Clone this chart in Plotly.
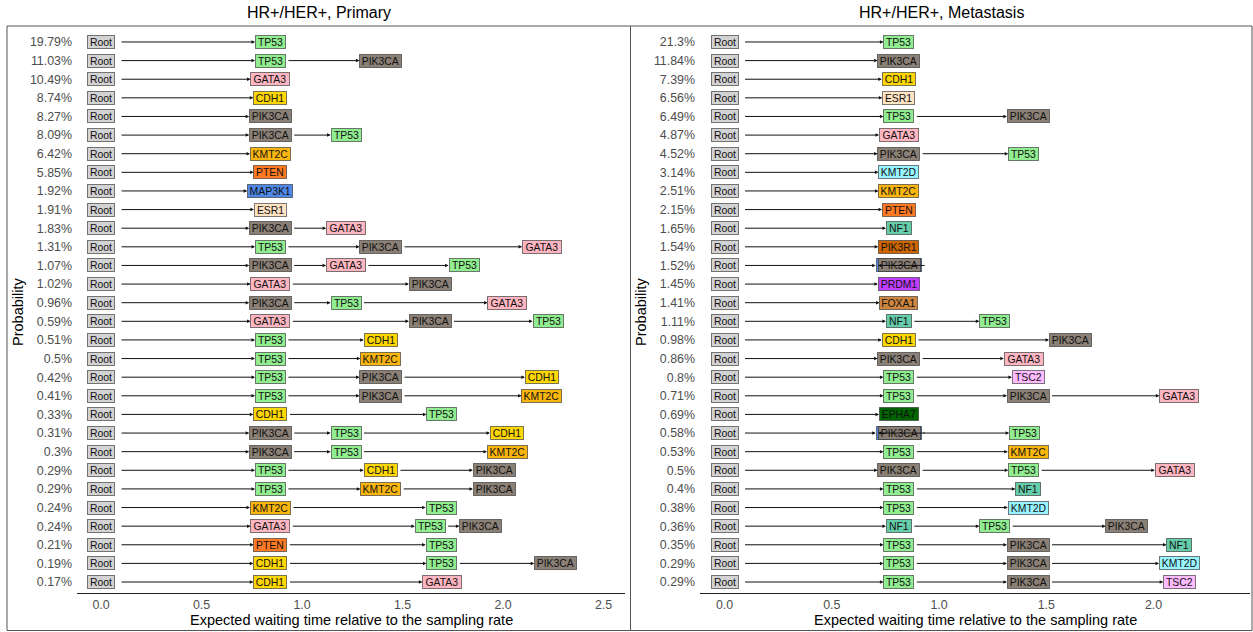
import plotly.graph_objects as go

# ---------------- data ----------------
primary_prob = ["19.79%", "11.03%", "10.49%", "8.74%", "8.27%", "8.09%", "6.42%", "5.85%",
                "1.92%", "1.91%", "1.83%", "1.31%", "1.07%", "1.02%", "0.96%", "0.59%",
                "0.51%", "0.5%", "0.42%", "0.41%", "0.33%", "0.31%", "0.3%", "0.29%",
                "0.29%", "0.24%", "0.24%", "0.21%", "0.19%", "0.17%"]
primary_paths = [
    ["TP53"], ["TP53", "PIK3CA"], ["GATA3"], ["CDH1"], ["PIK3CA"], ["PIK3CA", "TP53"],
    ["KMT2C"], ["PTEN"], ["MAP3K1"], ["ESR1"], ["PIK3CA", "GATA3"],
    ["TP53", "PIK3CA", "GATA3"], ["PIK3CA", "GATA3", "TP53"], ["GATA3", "PIK3CA"],
    ["PIK3CA", "TP53", "GATA3"], ["GATA3", "PIK3CA", "TP53"], ["TP53", "CDH1"],
    ["TP53", "KMT2C"], ["TP53", "PIK3CA", "CDH1"], ["TP53", "PIK3CA", "KMT2C"],
    ["CDH1", "TP53"], ["PIK3CA", "TP53", "CDH1"], ["PIK3CA", "TP53", "KMT2C"],
    ["TP53", "CDH1", "PIK3CA"], ["TP53", "KMT2C", "PIK3CA"], ["KMT2C", "TP53"],
    ["GATA3", "TP53", "PIK3CA"], ["PTEN", "TP53"], ["CDH1", "TP53", "PIK3CA"],
    ["CDH1", "GATA3"]]
primary_times = [
    [0.843], [0.843, 1.392], [0.843], [0.843], [0.843], [0.843, 1.219],
    [0.843], [0.843], [0.843], [0.843], [0.843, 1.219],
    [0.843, 1.392, 2.194], [0.843, 1.219, 1.806], [0.843, 1.638],
    [0.843, 1.219, 2.022], [0.843, 1.638, 2.224], [0.843, 1.392],
    [0.843, 1.392], [0.843, 1.392, 2.194], [0.843, 1.392, 2.194],
    [0.843, 1.696], [0.843, 1.219, 2.020], [0.843, 1.219, 2.022],
    [0.843, 1.392, 1.956], [0.843, 1.392, 1.956], [0.843, 1.692],
    [0.843, 1.638, 1.889], [0.843, 1.692], [0.843, 1.696, 2.261],
    [0.843, 1.698]]

meta_prob = ["21.3%", "11.84%", "7.39%", "6.56%", "6.49%", "4.87%", "4.52%", "3.14%",
             "2.51%", "2.15%", "1.65%", "1.54%", "1.52%", "1.45%", "1.41%", "1.11%",
             "0.98%", "0.86%", "0.8%", "0.71%", "0.69%", "0.58%", "0.53%", "0.5%",
             "0.4%", "0.38%", "0.36%", "0.35%", "0.29%", "0.29%"]
meta_paths = [
    ["TP53"], ["PIK3CA"], ["CDH1"], ["ESR1"], ["TP53", "PIK3CA"], ["GATA3"],
    ["PIK3CA", "TP53"], ["KMT2D"], ["KMT2C"], ["PTEN"], ["NF1"], ["PIK3R1"],
    ["MAP3K1", "PIK3CA"], ["PRDM1"], ["FOXA1"], ["NF1", "TP53"], ["CDH1", "PIK3CA"],
    ["PIK3CA", "GATA3"], ["TP53", "TSC2"], ["TP53", "PIK3CA", "GATA3"], ["EPHA7"],
    ["MAP3K1", "PIK3CA", "TP53"], ["TP53", "KMT2C"], ["PIK3CA", "TP53", "GATA3"],
    ["TP53", "NF1"], ["TP53", "KMT2D"], ["NF1", "TP53", "PIK3CA"],
    ["TP53", "PIK3CA", "NF1"], ["TP53", "PIK3CA", "KMT2D"], ["TP53", "PIK3CA", "TSC2"]]
meta_times = [
    [0.813], [0.813], [0.813], [0.813], [0.813, 1.416], [0.813],
    [0.813, 1.395], [0.813], [0.813], [0.813], [0.813], [0.813],
    [0.813, 0.815], [0.813], [0.813], [0.813, 1.260], [0.813, 1.612],
    [0.813, 1.395], [0.813, 1.416], [0.813, 1.416, 2.120], [0.813],
    [0.813, 0.815, 1.399], [0.813, 1.416], [0.813, 1.395, 2.099],
    [0.813, 1.416], [0.813, 1.416], [0.813, 1.260, 1.876],
    [0.813, 1.416, 2.121], [0.813, 1.416, 2.121], [0.813, 1.416, 2.121]]

primary_ticks = [0.0, 0.5, 1.0, 1.5, 2.0, 2.5]
meta_ticks = [0.0, 0.5, 1.0, 1.5, 2.0]

# ---------------- style ----------------
W, H = 1253, 632
FONT = "Liberation Sans, Arial, Helvetica, sans-serif"
FILL = {
    "Root": "#D3D3D3", "TP53": "#90EE90", "PIK3CA": "#8B8076", "GATA3": "#FFB6C1",
    "CDH1": "#FFD700", "KMT2C": "#FBB50F", "PTEN": "#FF7A22", "MAP3K1": "#5088E8",
    "ESR1": "#FFE4C4", "KMT2D": "#98F5FF", "NF1": "#66CDAA", "PIK3R1": "#CD6600",
    "PRDM1": "#BF3EFF", "FOXA1": "#CD853F", "EPHA7": "#006400", "TSC2": "#FFBBFF",
}
CW = {'A': 667, 'B': 667, 'C': 722, 'D': 722, 'E': 667, 'F': 611, 'G': 778, 'H': 722,
      'I': 278, 'K': 667, 'M': 833, 'N': 722, 'O': 778, 'P': 667, 'R': 722, 'S': 667,
      'T': 611, 'o': 556, 't': 278}
LABEL_SIZE = 10.4


def box_width(label):
    tw = sum(CW.get(c, 556) for c in label) * 10 / 1000.0
    return tw + 7.0


# panel geometry (px)
plot_top, plot_bot = 30.8, 593.2
panels = [
    dict(xa="x", ya="y", x0px=77, x1px=625, zero=101, ppu=201.0,
         prob=primary_prob, paths=primary_paths, times=primary_times,
         ticks=primary_ticks, title="HR+/HER+, Primary", tcx=318.5, ytx=18),
    dict(xa="x2", ya="y2", x0px=700, x1px=1250, zero=724.5, ppu=214.5,
         prob=meta_prob, paths=meta_paths, times=meta_times,
         ticks=meta_ticks, title="HR+/HER+, Metastasis", tcx=941.5, ytx=641),
]

fig = go.Figure()
annotations = []
shapes = []

for p in panels:
    n = len(p["prob"])
    rows = list(range(n))
    # invisible trace holding the node positions on this subplot
    xs, ys = [], []
    for r in rows:
        xs += [0.0] + p["times"][r]
        ys += [r] * (1 + len(p["times"][r]))
    fig.add_trace(go.Scatter(x=xs, y=ys, mode="markers", marker=dict(opacity=0),
                             hoverinfo="skip", showlegend=False,
                             xaxis=p["xa"], yaxis=p["ya"]))
    node_ann = []
    arrow_ann = []
    for r in rows:
        labels = ["Root"] + p["paths"][r]
        xsr = [0.0] + p["times"][r]
        for lab, xv in zip(labels, xsr):
            bw = box_width(lab)
            node_ann.append(dict(
                x=xv, y=r, xref=p["xa"], yref=p["ya"], text=lab, showarrow=False,
                font=dict(family=FONT, size=LABEL_SIZE, color="#111111"),
                bgcolor=FILL[lab], bordercolor="rgba(50,50,50,0.65)", borderwidth=1,
                borderpad=0, width=bw - 2, height=12, xanchor="center", yanchor="middle"))
        for i in range(len(labels) - 1):
            a, b = labels[i], labels[i + 1]
            gap = 6.5 if a == "Root" else 2.5
            tail = xsr[i] + (box_width(a) / 2 + gap) / p["ppu"]
            head = xsr[i + 1] - (box_width(b) / 2) / p["ppu"]
            arrow_ann.append(dict(
                x=head, y=r, ax=tail, ay=r, xref=p["xa"], yref=p["ya"],
                axref=p["xa"], ayref=p["ya"], text="", showarrow=True,
                arrowhead=2, arrowsize=0.7, arrowwidth=1, arrowcolor="#111111",
                standoff=0, startstandoff=0, borderpad=0, borderwidth=0))
    annotations += node_ann + arrow_ann

    # panel title
    annotations.append(dict(x=p["tcx"] / W, y=1 - 12.5 / H, xref="paper", yref="paper",
                            text=p["title"], showarrow=False,
                            font=dict(family=FONT, size=16, color="#000000"),
                            xanchor="center", yanchor="middle"))
    # y title
    annotations.append(dict(x=p["ytx"] / W, y=1 - 312 / H, xref="paper", yref="paper",
                            text="Probability", showarrow=False, textangle=-90,
                            font=dict(family=FONT, size=14.5, color="#000000"),
                            xanchor="center", yanchor="middle"))
    # x title
    annotations.append(dict(x=(p["x0px"] + p["x1px"]) / 2 / W, y=1 - 620 / H,
                            xref="paper", yref="paper",
                            text="Expected waiting time relative to the sampling rate",
                            showarrow=False,
                            font=dict(family=FONT, size=14.5, color="#000000"),
                            xanchor="center", yanchor="middle"))

# panel frames
for x0, x1 in [(7, 630.5), (630.5, 1252)]:
    shapes.append(dict(type="rect", xref="paper", yref="paper",
                       x0=x0 / W, x1=x1 / W, y0=1 - 630.5 / H, y1=1 - 26 / H,
                       line=dict(color="#555555", width=1), fillcolor="rgba(0,0,0,0)"))

layout = dict(
    width=W, height=H, margin=dict(l=0, r=0, t=0, b=0),
    paper_bgcolor="white", plot_bgcolor="white", showlegend=False,
    annotations=annotations, shapes=shapes,
)
for k, p in enumerate(panels):
    xkey = "xaxis" if k == 0 else "xaxis2"
    ykey = "yaxis" if k == 0 else "yaxis2"
    layout[xkey] = dict(
        domain=[p["x0px"] / W, p["x1px"] / W],
        range=[(p["x0px"] - p["zero"]) / p["ppu"], (p["x1px"] - p["zero"]) / p["ppu"]],
        anchor=p["ya"], showgrid=False, zeroline=False, showline=True,
        linecolor="#222222", linewidth=1, ticks="", tickvals=p["ticks"],
        ticktext=["%.1f" % t for t in p["ticks"]], ticklabelstandoff=0,
        tickfont=dict(family=FONT, size=12.4, color="#4D4D4D"), fixedrange=True)
    n = len(p["prob"])
    layout[ykey] = dict(
        domain=[1 - plot_bot / H, 1 - plot_top / H],
        range=[n - 0.4, -0.6], anchor=p["xa"], showgrid=False, zeroline=False,
        showline=False, ticks="", tickvals=list(range(n)), ticktext=p["prob"],
        ticklabelstandoff=4,
        tickfont=dict(family=FONT, size=12.4, color="#4D4D4D"), fixedrange=True)

fig.update_layout(**layout)
fig.write_html("out.html")
